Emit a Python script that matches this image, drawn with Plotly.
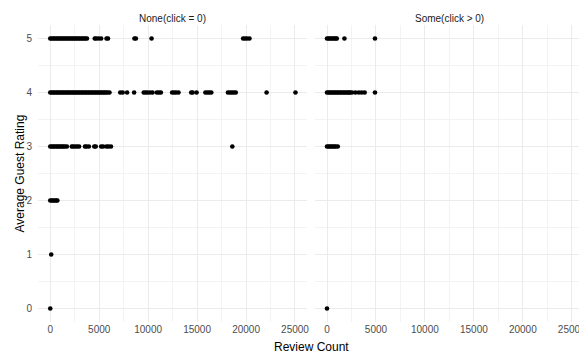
import plotly.graph_objects as go

# Panel 1: None (click = 0)
none_r5 = [0, 150, 300, 450, 600, 750, 900, 1050, 1200, 1350, 1500, 1650, 1800, 1950,
           2100, 2250, 2400, 2550, 2700, 2850, 3000, 3150, 3300, 3450, 3600, 3750,
           4550, 4700, 4950, 5200, 5750, 5900, 8600, 8750, 10350, 19700, 19900, 20100, 20350]
none_r4 = [0, 150, 300, 450, 600, 750, 900, 1050, 1200, 1350, 1500, 1650, 1800, 1950,
           2100, 2250, 2400, 2550, 2700, 2850, 3000, 3150, 3300, 3450, 3600, 3750,
           3900, 4050, 4200, 4350, 4500, 4650, 4800, 4950, 5100, 5250, 5400, 5550,
           5700, 5850, 6050, 7150, 7400, 7850, 8570, 9550, 9750, 9950, 10200, 10450,
           10900, 11100, 11300, 12450, 12650, 12850, 13100, 14400, 14550, 14950,
           15850, 16050, 16250, 16450, 18150, 18350, 18550, 18750, 18950, 22100, 25050]
none_r3 = [0, 150, 300, 450, 600, 750, 900, 1050, 1200, 1350, 1500, 1700,
           2200, 2350, 2550, 2750, 2950, 3550, 3700, 3950, 4500, 4650, 5200, 5400,
           5750, 5950, 6200, 18600]
none_r2 = [0, 150, 300, 450, 600, 730]
none_r1 = [100]
none_r0 = [0]

# Panel 2: Some (click > 0)
some_r5 = [0, 150, 300, 450, 600, 750, 900, 1000, 1780, 4900]
some_r4 = [0, 150, 300, 450, 600, 750, 900, 1050, 1200, 1350, 1500, 1650, 1800,
           1950, 2100, 2250, 2350, 2550, 2900, 3250, 3550, 3850, 4900]
some_r3 = [0, 150, 300, 450, 600, 750, 900, 1100]
some_r0 = [0]

ratings = [5, 4, 3, 2, 1, 0]
none_groups = [none_r5, none_r4, none_r3, none_r2, none_r1, none_r0]
some_groups = [some_r5, some_r4, some_r3, [], [], some_r0]

x_ticks = [0, 5000, 10000, 15000, 20000, 25000]
y_ticks = [0, 1, 2, 3, 4, 5]
strip_labels = ["None(click = 0)", "Some(click > 0)"]

FONT = "Liberation Sans, Arial, sans-serif"

def flatten(groups):
    xs, ys = [], []
    for r, g in zip(ratings, groups):
        xs += g
        ys += [r] * len(g)
    return xs, ys

fig = go.Figure()
x1, y1 = flatten(none_groups)
x2, y2 = flatten(some_groups)
mk = dict(color="black", size=4.6, line=dict(width=0))
fig.add_trace(go.Scatter(x=x1, y=y1, mode="markers", marker=mk, xaxis="x", yaxis="y",
                         showlegend=False, hoverinfo="skip"))
fig.add_trace(go.Scatter(x=x2, y=y2, mode="markers", marker=mk, xaxis="x2", yaxis="y2",
                         showlegend=False, hoverinfo="skip"))

xrange = [-1250, 26250]
yrange = [-0.25, 5.25]
grid_major = "#EBEBEB"
grid_minor = "#F3F3F3"

def xaxis(domain, anchor):
    return dict(domain=domain, anchor=anchor, range=xrange, tickvals=x_ticks,
                ticktext=[str(v) for v in x_ticks], showgrid=True, gridcolor=grid_major,
                gridwidth=1, zeroline=False, showline=False, ticks="", automargin=False,
                tickfont=dict(family=FONT, size=10, color="#4D4D4D"),
                minor=dict(tickvals=[2500, 7500, 12500, 17500, 22500], showgrid=True,
                           gridcolor=grid_minor, gridwidth=1, ticks=""))

def yaxis(anchor, show):
    return dict(domain=[0, 1], anchor=anchor, range=yrange, tickvals=y_ticks,
                ticktext=[str(v) for v in y_ticks], showticklabels=show, showgrid=True,
                gridcolor=grid_major, gridwidth=1, zeroline=False, showline=False, ticks="",
                automargin=False, ticklabelstandoff=5,
                tickfont=dict(family=FONT, size=10, color="#4D4D4D"),
                minor=dict(tickvals=[0.5, 1.5, 2.5, 3.5, 4.5], showgrid=True,
                           gridcolor=grid_minor, gridwidth=1, ticks=""))

# the page body adds an 8px offset, so the figure is sized to fill the rest of the window
fig.update_layout(
    width=579, height=352,
    margin=dict(l=30, r=3, t=16.5, b=37.5, autoexpand=False),
    paper_bgcolor="white", plot_bgcolor="white",
    xaxis=xaxis([0, 0.4931], "y"),
    xaxis2=xaxis([0.5069, 1], "y2"),
    yaxis=yaxis("x", True),
    yaxis2=yaxis("x2", False),
    font=dict(family=FONT),
)

annotations = []
for lab, cx in zip(strip_labels, [0.4931 / 2, (0.5069 + 1) / 2]):
    annotations.append(dict(text=lab, x=cx, y=1, xref="paper", yref="paper",
                            xanchor="center", yanchor="bottom", yshift=-1, showarrow=False,
                            font=dict(family=FONT, size=10, color="#1A1A1A")))
annotations.append(dict(text="Review Count", x=0.5, y=0, xref="paper", yref="paper",
                        xanchor="center", yanchor="middle", yshift=-25, showarrow=False,
                        font=dict(family=FONT, size=12, color="black")))
annotations.append(dict(text="Average Guest Rating", x=0, y=0.5, xref="paper", yref="paper",
                        xanchor="center", yanchor="middle", xshift=-19, textangle=-90,
                        showarrow=False, font=dict(family=FONT, size=12, color="black")))
fig.update_layout(annotations=annotations)

fig.write_html("out.html")
